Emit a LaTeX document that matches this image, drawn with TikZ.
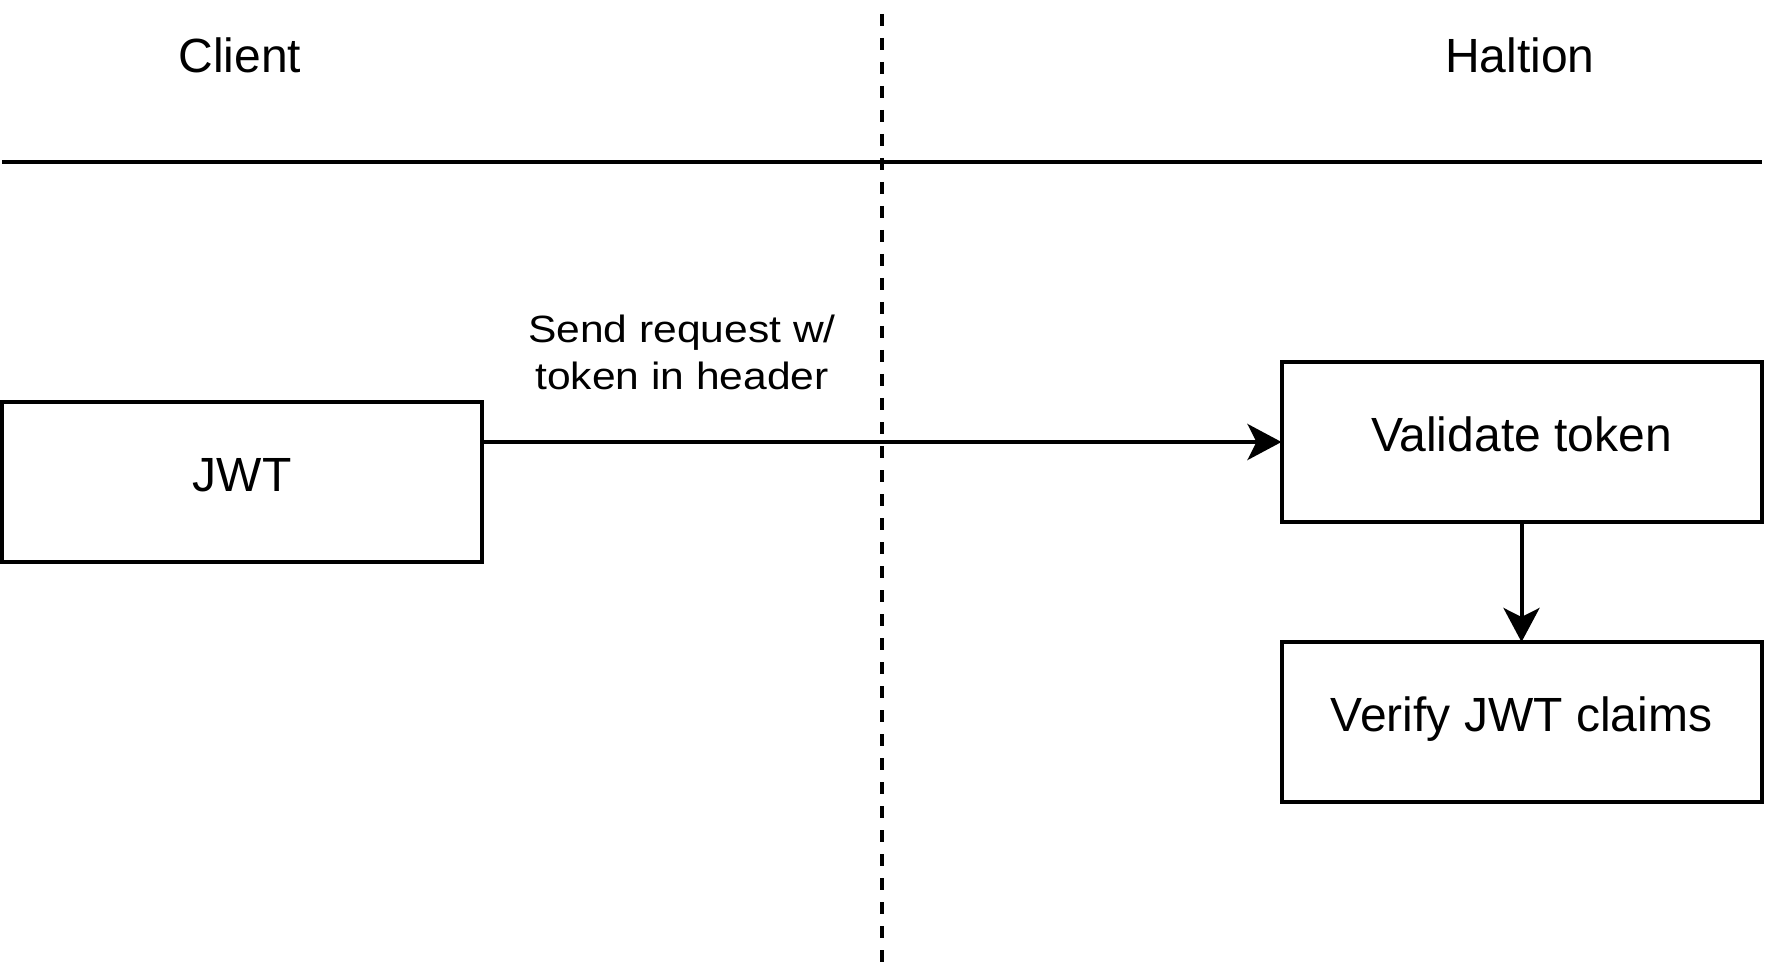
\documentclass[tikz,border=0pt]{standalone}
\usepackage{fontspec}
\setmainfont{Liberation Sans}
\newfontfamily\msgfont[FakeStretch=1.12]{Liberation Sans}
\usetikzlibrary{arrows.meta}
\usetikzlibrary{positioning}

\tikzset{
	stepbox/.style={draw, minimum width=240pt, minimum height=80pt, inner sep=0pt, outer sep=0pt,
		text height=17.2pt, text depth=7.5pt, font=\fontsize{24}{28}\selectfont},
	lanetitle/.style={anchor=base, font=\fontsize{24}{28}\selectfont},
}

\begin{document}
\begin{tikzpicture}[x=0.5pt,y=-0.5pt]
	\useasboundingbox (0,0) rectangle (1768,968);
	\begin{scope}[>={Stealth[length=17pt,width=18pt,inset=4.5pt]}, line width=2pt, line join=miter]

	% lanes
	\node[lanetitle] (client) at (240,72.7) {Client};
	\node[lanetitle] (haltion) at (1520,72.7) {Haltion};
	\coordinate (laneL) at (2,162);
	\coordinate (laneR) at (1762,162);
	\coordinate (splitT) at (882,14);
	\coordinate (splitB) at (882,962);
	\draw (laneL) -- (laneR);

	% boxes
	\node[stepbox] (jwt) at (242,482) {JWT};
	\node[stepbox] (validate) at (1521.5,442) {Validate token};
	\node[stepbox, below=60pt of validate] (verify) {Verify JWT claims};

	\draw[->] (jwt.east |- validate.west) -- (validate.west);
	\draw[->] (validate) -- (verify);
	\node[align=center, anchor=base, font=\msgfont\fontsize{19}{23.65}\selectfont] (msg) at (682,390) {Send request w/\\token in header};

	\draw[dash pattern=on 6pt off 6pt] (splitT) -- (splitB);

	\end{scope}
\end{tikzpicture}
\end{document}
